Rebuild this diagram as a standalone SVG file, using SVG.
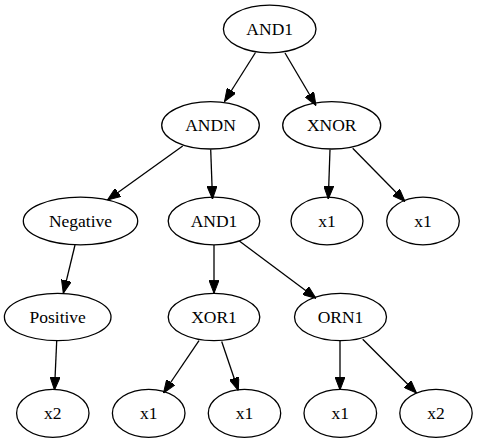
<svg xmlns="http://www.w3.org/2000/svg" width="478" height="443" viewBox="0 0 478 443">
<style>
.n ellipse{fill:none;stroke:#000;stroke-width:1.3}
.n text{font-size:17.5px;text-anchor:middle;fill:#000}
.e line{stroke:#000;stroke-width:1.3;marker-end:url(#ah)}
</style>
<defs>
<marker id="ah" viewBox="0 0 13 10" refX="13" refY="5" markerWidth="13" markerHeight="10" markerUnits="userSpaceOnUse" orient="auto">
<path d="M0,0 L13,5 L0,10 z" fill="#000" stroke="#000" stroke-width="1"/>
</marker>
</defs>
<rect width="478" height="443" fill="#fff"/>
<g id="edges" class="e">
<line x1="255.5" y1="52.5" x2="224.5" y2="101.5"/>
<line x1="285" y1="53" x2="316" y2="105.5"/>
<line x1="182.7" y1="146" x2="107.5" y2="200"/>
<line x1="210.7" y1="149.5" x2="212.5" y2="199"/>
<line x1="330" y1="149.5" x2="328.3" y2="199"/>
<line x1="352.7" y1="148.3" x2="405" y2="201.5"/>
<line x1="75" y1="245" x2="63.3" y2="293.3"/>
<line x1="214" y1="245" x2="214" y2="293.3"/>
<line x1="239.3" y1="241" x2="316" y2="298.3"/>
<line x1="56.7" y1="341" x2="54.5" y2="390"/>
<line x1="199" y1="340.7" x2="163.5" y2="393"/>
<line x1="221.7" y1="341.5" x2="238.3" y2="390.5"/>
<line x1="340" y1="341" x2="340" y2="390"/>
<line x1="362.7" y1="339.3" x2="416.5" y2="393"/>
</g>
<g font-family="Liberation Serif, serif">
<g id="n_and1_top" class="n"><ellipse cx="269.7" cy="29" rx="46.3" ry="23.8"/><text x="269.7" y="35">AND1</text></g>
<g id="n_andn" class="n"><ellipse cx="210.5" cy="125.3" rx="48.8" ry="23.7"/><text x="210.5" y="131.3">ANDN</text></g>
<g id="n_xnor" class="n"><ellipse cx="331.7" cy="125.3" rx="49" ry="23.7"/><text x="331.7" y="131.3">XNOR</text></g>
<g id="n_negative" class="n"><ellipse cx="80.5" cy="221" rx="57.2" ry="23.8"/><text x="80.5" y="227">Negative</text></g>
<g id="n_and1_mid" class="n"><ellipse cx="214" cy="221" rx="45.8" ry="23.8"/><text x="214" y="227">AND1</text></g>
<g id="n_x1_a" class="n"><ellipse cx="327" cy="221" rx="36" ry="23.8"/><text x="327" y="227">x1</text></g>
<g id="n_x1_b" class="n"><ellipse cx="423" cy="221" rx="36.3" ry="23.8"/><text x="423" y="227">x1</text></g>
<g id="n_positive" class="n"><ellipse cx="57.7" cy="317" rx="53.3" ry="23.7"/><text x="57.7" y="323">Positive</text></g>
<g id="n_xor1" class="n"><ellipse cx="214" cy="317" rx="45.8" ry="23.7"/><text x="214" y="323">XOR1</text></g>
<g id="n_orn1" class="n"><ellipse cx="340.5" cy="317" rx="46" ry="23.7"/><text x="340.5" y="323">ORN1</text></g>
<g id="n_x2_a" class="n"><ellipse cx="52.8" cy="413.3" rx="36.2" ry="24"/><text x="52.8" y="419.3">x2</text></g>
<g id="n_x1_c" class="n"><ellipse cx="148.7" cy="413.3" rx="36.3" ry="24"/><text x="148.7" y="419.3">x1</text></g>
<g id="n_x1_d" class="n"><ellipse cx="244.5" cy="413.3" rx="36.2" ry="24"/><text x="244.5" y="419.3">x1</text></g>
<g id="n_x1_e" class="n"><ellipse cx="340.3" cy="413.3" rx="36.3" ry="24"/><text x="340.3" y="419.3">x1</text></g>
<g id="n_x2_b" class="n"><ellipse cx="436" cy="413.3" rx="36.2" ry="24"/><text x="436" y="419.3">x2</text></g>
</g>
</svg>
